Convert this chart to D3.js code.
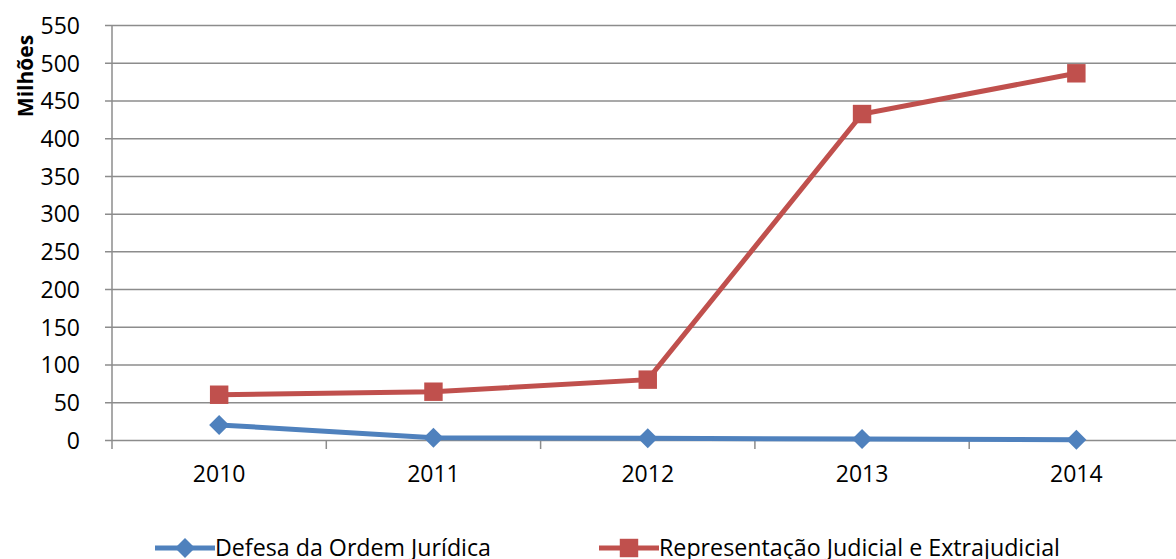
<!DOCTYPE html>
<html>
<head>
<meta charset="utf-8">
<script src="https://cdn.jsdelivr.net/npm/d3@7"></script>
<style>
  body { margin: 0; background: #fff; }
  text { font-family: "Open Sans", "Liberation Sans", sans-serif; fill: #000; }
</style>
</head>
<body>
<div id="chart"></div>
<script>
var years = ["2010", "2011", "2012", "2013", "2014"];
var defesa = [20, 3, 2.2, 1.3, 0.2];
var representacao = [60, 64, 80, 432, 486];
var yTicks = [0, 50, 100, 150, 200, 250, 300, 350, 400, 450, 500, 550];
var seriesNames = ["Defesa da Ordem Jurídica", "Representação Judicial e Extrajudicial"];
var seriesColors = ["#4F81BD", "#C0504D"];

var W = 1176, H = 559;
var plotLeft = 112, plotTop = 25, plotBottom = 440;

var svg = d3.select("#chart").append("svg")
	.attr("width", W)
	.attr("height", H);

var x = d3.scaleBand().domain(years).range([plotLeft, plotLeft + 5 * 214.3]);
var y = d3.scaleLinear().domain([0, 550]).range([plotBottom, plotTop]);

// gridlines + y labels
svg.append("g")
	.attr("transform", "translate(" + plotLeft + ",0)")
	.call(d3.axisLeft(y).tickValues(yTicks).tickSize(7).tickPadding(25))
	.call(function(g) {
		g.select(".domain").remove();
		g.selectAll(".tick line").attr("x2", W - plotLeft).attr("x1", -7)
			.attr("stroke", "#8c8c8c").attr("stroke-width", 1.5);
		g.selectAll(".tick text").style("font-size", "23px").attr("dy", "0.36em");
	});

// y axis line
svg.append("line")
	.attr("x1", plotLeft).attr("x2", plotLeft)
	.attr("y1", plotTop).attr("y2", plotBottom + 9)
	.attr("stroke", "#8c8c8c").attr("stroke-width", 1.5);

// x axis, ticks between categories
svg.append("g")
	.attr("transform", "translate(0," + plotBottom + ")")
	.call(d3.axisBottom(x).tickSize(0).tickPadding(26))
	.call(function(g) {
		g.select(".domain").remove();
		g.selectAll(".tick text").style("font-size", "23px").attr("dy", "0.71em");
	});

svg.append("g").selectAll("line")
	.data(years)
	.join("line")
	.attr("x1", function(d) { return x(d) + x.bandwidth(); })
	.attr("x2", function(d) { return x(d) + x.bandwidth(); })
	.attr("y1", plotBottom).attr("y2", plotBottom + 9)
	.attr("stroke", "#8c8c8c").attr("stroke-width", 1.5);

// y title
svg.append("text")
	.attr("transform", "translate(33,76) rotate(-90)")
	.attr("text-anchor", "middle")
	.style("font-size", "21px")
	.style("font-weight", "bold")
	.text("Milhões");

var line = d3.line()
	.x(function(d, i) { return x(years[i]) + x.bandwidth() / 2; })
	.y(function(d) { return y(d); });

// series lines
svg.append("path").datum(defesa)
	.attr("d", line).attr("fill", "none")
	.attr("stroke", seriesColors[0]).attr("stroke-width", 5);
svg.append("path").datum(representacao)
	.attr("d", line).attr("fill", "none")
	.attr("stroke", seriesColors[1]).attr("stroke-width", 5);

var diamond = d3.symbol().type(d3.symbolSquare).size(200);
var square = d3.symbol().type(d3.symbolSquare).size(340);

svg.append("g").selectAll("path")
	.data(defesa)
	.join("path")
	.attr("d", diamond)
	.attr("transform", function(d, i) {
		return "translate(" + (x(years[i]) + x.bandwidth() / 2) + "," + y(d) + ") rotate(45)";
	})
	.attr("fill", seriesColors[0]);

svg.append("g").selectAll("path")
	.data(representacao)
	.join("path")
	.attr("d", square)
	.attr("transform", function(d, i) {
		return "translate(" + (x(years[i]) + x.bandwidth() / 2) + "," + y(d) + ")";
	})
	.attr("fill", seriesColors[1]);

// legend
var legendX = [155, 599];
var legendW = [276, 401];
var legY = 548;
var leg = svg.append("g").selectAll("g")
	.data(seriesNames)
	.join("g")
	.attr("transform", function(d, i) { return "translate(" + legendX[i] + "," + legY + ")"; });

leg.append("line")
	.attr("x1", 0).attr("x2", 60)
	.attr("stroke", function(d, i) { return seriesColors[i]; })
	.attr("stroke-width", 5);
leg.append("path")
	.attr("d", function(d, i) { return i == 0 ? diamond() : square(); })
	.attr("transform", function(d, i) { return "translate(30,0)" + (i == 0 ? " rotate(45)" : ""); })
	.attr("fill", function(d, i) { return seriesColors[i]; });
leg.append("text")
	.attr("x", 60)
	.attr("y", 8)
	.style("font-size", "23px")
	.attr("textLength", function(d, i) { return legendW[i]; })
	.attr("lengthAdjust", "spacingAndGlyphs")
	.text(function(d) { return d; });
</script>
</body>
</html>
